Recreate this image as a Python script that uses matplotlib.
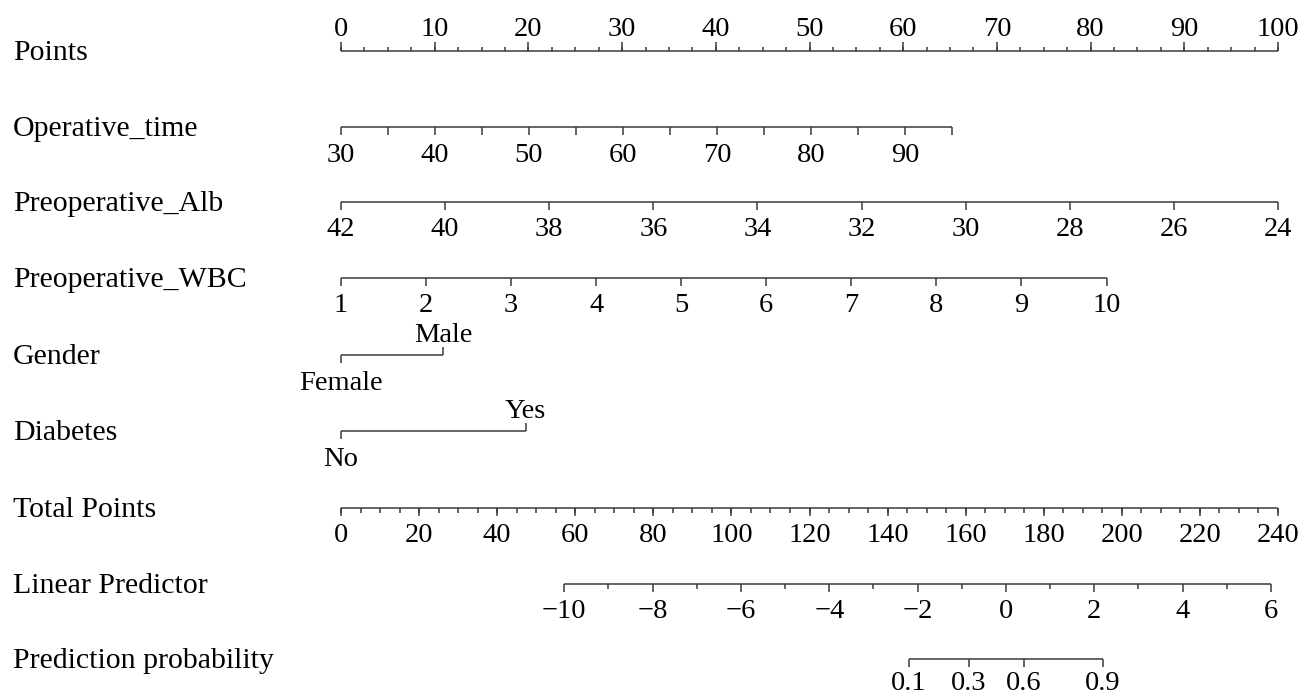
import numpy as np
import matplotlib
matplotlib.use("Agg")
import matplotlib.pyplot as plt

# ---------------- data ----------------
row_labels = ["Points", "Operative_time", "Preoperative_Alb", "Preoperative_WBC",
              "Gender", "Diabetes", "Total Points", "Linear Predictor",
              "Prediction probability"]

points_major = list(range(0, 101, 10))
points_minor_step = 2.5

op_time_values = list(range(30, 96, 5))
op_time_labels = list(range(30, 91, 10))
op_time_range = (30, 95)
op_time_points = (0.0, 65.2)

alb_values = list(range(42, 23, -2))
alb_range = (42, 24)
alb_points = (0.0, 100.0)

wbc_values = list(range(1, 11))
wbc_range = (1, 10)
wbc_points = (0.0, 81.7)

gender_levels = ["Female", "Male"]
gender_points = [0.0, 10.9]

diabetes_levels = ["No", "Yes"]
diabetes_points = [0.0, 19.7]

total_major = list(range(0, 241, 20))
total_minor_step = 5
total_max = 240

lp_values = list(range(-10, 7))
lp_labels = list(range(-10, 7, 2))
lp_total_at = (-10, 57.2, 6, 238.2)  # lp value -> total points

prob_values = [0.1, 0.3, 0.6, 0.9]

# ---------------- layout ----------------
W, H = 1305, 696
X0, X1 = 341, 1278
row_y = [51, 127, 202, 278, 355, 431, 508, 584, 659]
FS_TICK = 20.5
FS_ROW = 21.5
FONT = "Liberation Serif"
LC = "#3a3a3a"
LW = 1.1

fig = plt.figure(figsize=(W / 100, H / 100), dpi=100)
ax = fig.add_axes([X0 / W, 0, (X1 - X0) / W, 1])
ax.set_xlim(0, 100)
ax.set_ylim(H, 0)
ax.axis("off")


def txt(x, y, s, **kw):
    ax.text(x, y, s, fontsize=FS_TICK, family=FONT, ha="center", va="center",
            clip_on=False, **kw)


def hline(x0, x1, y):
    ax.plot([x0, x1], [y, y], color=LC, lw=LW, clip_on=False,
            solid_capstyle="butt")


def tick(x, y, length):
    ax.plot([x, x], [y, y + length], color=LC, lw=LW, clip_on=False,
            solid_capstyle="butt")


def lin(v, vr, pr):
    return pr[0] + (v - vr[0]) * (pr[1] - pr[0]) / (vr[1] - vr[0])


# row labels
for lab, y in zip(row_labels, row_y):
    fig.text(13 / W, 1 - (y + 2) / H, lab, fontsize=FS_ROW, family=FONT,
             ha="left", va="center")

# Points
y = row_y[0]
hline(0, 100, y)
for v in np.arange(0, 100.001, points_minor_step):
    tick(v, y, -4.5)
for v in points_major:
    tick(v, y, -9)
    txt(v, y - 21, str(v))

# Operative time
y = row_y[1]
p = [lin(v, op_time_range, op_time_points) for v in op_time_values]
hline(min(p), max(p), y)
for v, pv in zip(op_time_values, p):
    tick(pv, y, 8)
    if v in op_time_labels:
        txt(pv, y + 28, str(v))

# Preoperative Alb
y = row_y[2]
p = [lin(v, alb_range, alb_points) for v in alb_values]
hline(min(p), max(p), y)
for v, pv in zip(alb_values, p):
    tick(pv, y, 8)
    txt(pv, y + 28, str(v))

# Preoperative WBC
y = row_y[3]
p = [lin(v, wbc_range, wbc_points) for v in wbc_values]
hline(min(p), max(p), y)
for v, pv in zip(wbc_values, p):
    tick(pv, y, 8)
    txt(pv, y + 28, str(v))

# Binary variables
for idx, levels, pts in [(4, gender_levels, gender_points),
                         (5, diabetes_levels, diabetes_points)]:
    y = row_y[idx]
    hline(pts[0], pts[1], y)
    tick(pts[0], y, 8)
    txt(pts[0], y + 28, levels[0])
    tick(pts[1], y, -8)
    txt(pts[1], y - 20, levels[1])

# Total points
y = row_y[6]
tp = lambda t: t * 100.0 / total_max
hline(0, 100, y)
for v in np.arange(0, total_max + 0.001, total_minor_step):
    tick(tp(v), y, 5)
for v in total_major:
    tick(tp(v), y, 8)
    txt(tp(v), y + 28, str(v))

# Linear predictor
y = row_y[7]
l0, t0, l1, t1 = lp_total_at
lp2x = lambda l: tp(t0 + (l - l0) * (t1 - t0) / (l1 - l0))
hline(lp2x(lp_values[0]), lp2x(lp_values[-1]), y)
for v in lp_values:
    if v in lp_labels:
        tick(lp2x(v), y, 8)
        txt(lp2x(v), y + 28, str(v).replace("-", "\u2212"))
    else:
        tick(lp2x(v), y, 4.5)

# Prediction probability
y = row_y[8]
p = [lp2x(np.log(v / (1 - v))) for v in prob_values]
hline(min(p), max(p), y)
for v, pv in zip(prob_values, p):
    tick(pv, y, 8)
    txt(pv, y + 24, f"{v:g}")

fig.savefig("out.png", dpi=100)
